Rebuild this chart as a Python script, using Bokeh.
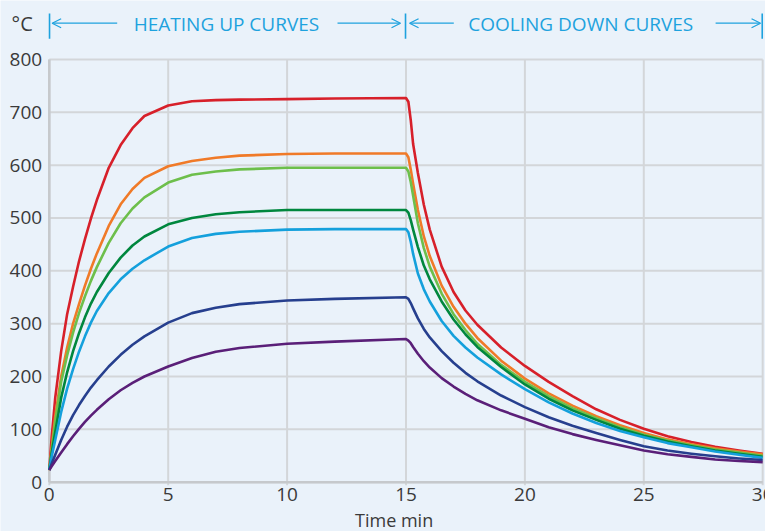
from bokeh.plotting import figure
from bokeh.models import Range1d, Arrow, OpenHead
from bokeh.core.properties import value
from bokeh.embed import file_html
from bokeh.resources import INLINE

# time axis (minutes)
time_min = [0, 0.1, 0.25, 0.5, 0.75, 1, 1.25, 1.5, 1.75, 2, 2.5, 3, 3.5, 4, 5, 6, 7, 8, 10, 12, 15,
            15.1, 15.2, 15.3, 15.5, 15.75, 16, 16.5, 17, 17.5, 18, 19, 20,
            21, 22, 23, 24, 25, 26, 27, 28, 29, 30]

red = [23, 85, 160, 248, 318, 370, 418, 460, 499, 534, 595, 638, 670, 693, 713, 721, 723, 724, 725, 726, 727,
       720, 685, 640, 585, 525, 478, 408, 360, 325, 298, 255, 220,
       190, 163, 138, 118, 101, 87, 76, 67, 60, 54]
orange = [23, 65, 125, 200, 255, 300, 337, 372, 404, 433, 485, 526, 555, 576, 598, 608, 614, 618, 621, 622, 622,
          615, 592, 565, 515, 465, 428, 372, 332, 300, 273, 230, 196,
          168, 145, 125, 108, 93, 81, 72, 64, 58, 53]
light_green = [23, 60, 115, 190, 240, 283, 320, 352, 381, 407, 453, 490, 518, 539, 567, 582, 588, 592, 595, 595, 595,
               588, 568, 542, 490, 443, 408, 357, 318, 288, 262, 222, 190,
               163, 140, 121, 104, 90, 79, 70, 62, 56, 50]
dark_green = [23, 55, 95, 160, 208, 248, 282, 312, 338, 360, 396, 425, 448, 465, 488, 500, 507, 511, 515, 515, 515,
              510, 496, 478, 445, 410, 384, 342, 308, 280, 256, 218, 185,
              158, 136, 118, 101, 88, 77, 68, 60, 54, 48]
light_blue = [23, 48, 80, 133, 177, 214, 247, 276, 302, 324, 358, 384, 404, 420, 446, 462, 470, 474, 478, 479, 479,
              473, 455, 432, 395, 365, 342, 305, 277, 255, 236, 204, 176,
              151, 130, 112, 97, 85, 74, 66, 58, 52, 46]
dark_blue = [23, 35, 52, 80, 105, 127, 146, 163, 179, 193, 219, 241, 260, 276, 302, 320, 330, 337, 344, 347, 350,
             347, 339, 329, 310, 290, 274, 248, 226, 207, 191, 164, 142,
             123, 107, 93, 80, 68, 60, 54, 49, 45, 42]
purple = [23, 30, 40, 56, 72, 87, 101, 114, 126, 137, 157, 174, 188, 200, 219, 235, 247, 254, 262, 266, 271,
          268, 263, 256, 243, 229, 217, 197, 181, 167, 155, 136, 120,
          104, 91, 80, 70, 60, 53, 48, 43, 40, 38]

series = [red, orange, light_green, dark_green, light_blue, dark_blue, purple]
colors = ["#D7202A", "#F07A28", "#6DBF4B", "#00873E", "#14A0DC", "#263F8E", "#5A1F78"]

x_ticks = [0, 5, 10, 15, 20, 25, 30]
y_ticks = [0, 100, 200, 300, 400, 500, 600, 700, 800]
x_label = "Time min"
y_unit = "°C"
heating_title = "HEATING UP CURVES"
cooling_title = "COOLING DOWN CURVES"

BG = "#EAF2FA"
GRID = "#D3D6D9"
AXIS = "#C6C9CC"
TXT = "#3A3A3A"
CYAN = "#1EA2DE"
FONT = "Open Sans"

# frame spans the whole canvas; ranges chosen so 0..30 / 0..800 sit where the reference has them
p = figure(width=765, height=531, output_backend="svg", toolbar_location=None,
           x_range=Range1d(-2.052, 30.118), y_range=Range1d(-93.3, 911.6),
           x_axis_location=None, y_axis_location=None, min_border=0)
p.background_fill_color = BG
p.border_fill_color = BG
p.outline_line_color = None
p.grid.visible = False

xmin, xmax = x_ticks[0], x_ticks[-1]
ymin, ymax = y_ticks[0], y_ticks[-1]

# grid
p.segment(x0=x_ticks, y0=[ymin - 6] * len(x_ticks), x1=x_ticks, y1=[ymax] * len(x_ticks),
          line_color=GRID, line_width=2)
p.segment(x0=[xmin] * len(y_ticks), y0=y_ticks, x1=[xmax] * len(y_ticks), y1=y_ticks,
          line_color=GRID, line_width=2)
# axis lines
p.segment(x0=[xmin, xmin], y0=[ymin, ymin], x1=[xmin, xmax], y1=[ymax, ymin],
          line_color=AXIS, line_width=2.6)

for s, c in zip(series, colors):
    p.line(time_min, s, line_color=c, line_width=2.6, line_join="round")

# tick labels
p.text(x=x_ticks, y=[-23.3] * len(x_ticks), text=[str(t) for t in x_ticks],
       text_font=value(FONT), text_font_size="19px", text_color=TXT,
       text_align="center", text_baseline="middle")
p.text(x=[-0.3] * len(y_ticks), y=y_ticks, text=[str(t) for t in y_ticks],
       text_font=value(FONT), text_font_size="19px", text_color=TXT,
       text_align="right", text_baseline="middle")
p.text(x=[14.5], y=[-71.5], text=[x_label], text_font=value(FONT), text_font_size="18px",
       text_color=TXT, text_align="center", text_baseline="middle")

# header
p.text(x=[-1.14], y=[868], text=[y_unit], text_font=value(FONT), text_font_size="20px",
       text_color=TXT, text_align="center", text_baseline="middle")
p.text(x=[7.45, 22.35], y=[868, 868], text=[heating_title, cooling_title],
       text_font=value(FONT), text_font_size="19px", text_color=CYAN,
       text_align="center", text_baseline="middle")
bars = [0.01, 14.98, 29.98]
p.segment(x0=bars, y0=[839] * 3, x1=bars, y1=[887] * 3, line_color=CYAN, line_width=1.6)
arrows = [(2.855, 0.12), (12.12, 14.77), (17.01, 15.15), (28.02, 29.91)]
for xs, xe in arrows:
    p.add_layout(Arrow(x_start=xs, y_start=868.6, x_end=xe, y_end=868.6,
                       end=OpenHead(size=9, line_color=CYAN, line_width=1.3),
                       line_color=CYAN, line_width=1.3))

open("out.html", "w").write(file_html(p, INLINE))
